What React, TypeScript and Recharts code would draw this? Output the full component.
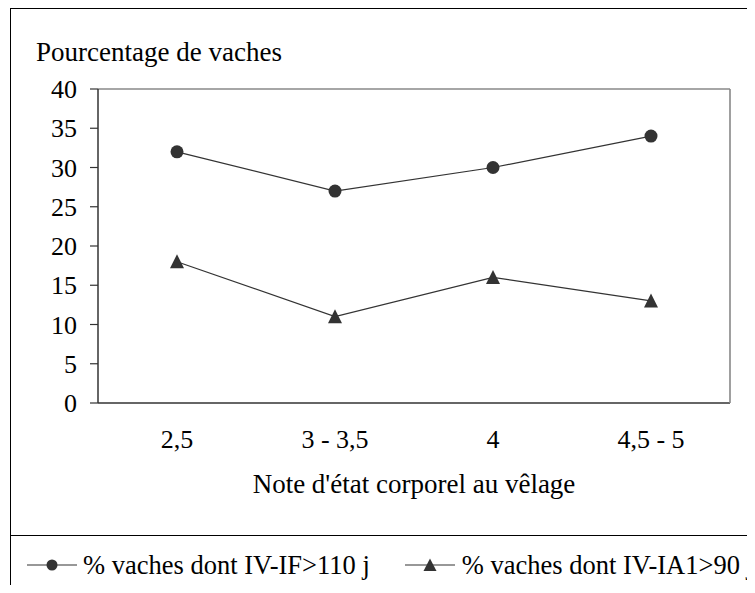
import { LineChart, Line, XAxis, YAxis, Label } from "recharts";

const categories = ["2,5", "3 - 3,5", "4", "4,5 - 5"];
const ifOver110 = [32, 27, 30, 34];
const ia1Over90 = [18, 11, 16, 13];
const yTicks = [0, 5, 10, 15, 20, 25, 30, 35, 40];
const edgeTicks = [0, 1, 2, 3, 4];
const seriesNames = ["% vaches dont IV-IF>110 j", "% vaches dont IV-IA1>90 j"];

const data = categories.map((cat, i) => ({
  cat,
  a: ifOver110[i],
  b: ia1Over90[i],
}));

const FONT = "'Liberation Serif', 'Times New Roman', serif";
const INK = "#333";
const FRAME = "#888";

function Triangle(props: any) {
  const { cx, cy } = props;
  if (cx == null || cy == null) return null;
  return <polygon points={`${cx},${cy - 7.5} ${cx - 7},${cy + 6.5} ${cx + 7},${cy + 6.5}`} fill={INK} />;
}

function LegendIcon({ kind }: { kind: "circle" | "triangle" }) {
  return (
    <svg width={50} height={16} style={{ display: "block" }}>
      <line x1={0} y1={8} x2={50} y2={8} stroke={INK} strokeWidth={1.2} />
      {kind === "circle" ? (
        <circle cx={25} cy={8} r={5.5} fill={INK} />
      ) : (
        <polygon points="25,1.5 18.5,14 31.5,14" fill={INK} />
      )}
    </svg>
  );
}

export default function App() {
  const tickText = { fontFamily: FONT, fontSize: 26, fill: "#000" };
  const titleText = { fontFamily: FONT, fontSize: 27, fill: "#000" };
  return (
    <div style={{ position: "relative", width: 747, height: 585, marginBottom: -8, overflow: "hidden", fontFamily: FONT, color: "#000" }}>
      <div style={{ position: "absolute", left: 2, top: 0, width: 800, height: 700, borderTop: "1.4px solid #000", borderLeft: "1.4px solid #000" }} />
      <div style={{ position: "absolute", left: 2, top: 527, width: 800, borderTop: "1.4px solid #000" }} />
      <div style={{ position: "absolute", left: 28, top: 31, fontSize: 27, lineHeight: 1, whiteSpace: "nowrap" }}>
        Pourcentage de vaches
      </div>
      <div style={{ position: "absolute", left: 0, top: 0 }}>
        <LineChart width={747} height={520} data={data} margin={{ top: 80, right: 24, bottom: 50, left: 0 }}>
          {/* ticks between categories */}
          <XAxis
            xAxisId={0}
            type="number"
            domain={[0, 4]}
            allowDataOverflow
            ticks={edgeTicks}
            tick={false}
            tickSize={8}
            height={1}
            axisLine={{ stroke: INK, strokeWidth: 1.5 }}
            tickLine={{ stroke: INK, strokeWidth: 1.2 }}
          />
          <XAxis
            xAxisId="cat"
            dataKey="cat"
            scale="band"
            height={74}
            axisLine={false}
            tickLine={false}
            tickSize={8}
            tickMargin={18}
            tick={tickText}
            interval={0}
          >
            <Label value="Note d'état corporel au vêlage" position="insideBottom" offset={-15} style={{ ...titleText, textAnchor: "middle" }} />
          </XAxis>
          <XAxis xAxisId="top" orientation="top" type="number" domain={[0, 1]} ticks={[0, 1]} allowDataOverflow height={1} tick={false} tickLine={false} axisLine={{ stroke: FRAME, strokeWidth: 1.6 }} />
          <YAxis
            domain={[0, 40]}
            ticks={yTicks}
            width={90}
            tickSize={8}
            tickMargin={13}
            tick={tickText}
            axisLine={{ stroke: INK, strokeWidth: 1.5 }}
            tickLine={{ stroke: INK, strokeWidth: 1.2 }}
            interval={0}
          />
          <YAxis yAxisId="right" orientation="right" domain={[0, 1]} ticks={[0, 1]} allowDataOverflow width={1} tick={false} tickLine={false} axisLine={{ stroke: FRAME, strokeWidth: 1.6 }} />
          <Line xAxisId="cat" dataKey="a" name={seriesNames[0]} stroke={INK} strokeWidth={1.2} dot={{ r: 6.5, fill: INK, stroke: "none" }} isAnimationActive={false} />
          <Line xAxisId="cat" dataKey="b" name={seriesNames[1]} stroke={INK} strokeWidth={1.2} dot={<Triangle />} isAnimationActive={false} />
        </LineChart>
      </div>
      <div style={{ position: "absolute", left: 19, top: 544, display: "flex", alignItems: "center", fontSize: 26.5, lineHeight: 1, whiteSpace: "nowrap" }}>
        <LegendIcon kind="circle" />
        <span style={{ marginLeft: 6 }}>{seriesNames[0]}</span>
        <span style={{ width: 35 }} />
        <LegendIcon kind="triangle" />
        <span style={{ marginLeft: 7 }}>{seriesNames[1]}</span>
      </div>
    </div>
  );
}
